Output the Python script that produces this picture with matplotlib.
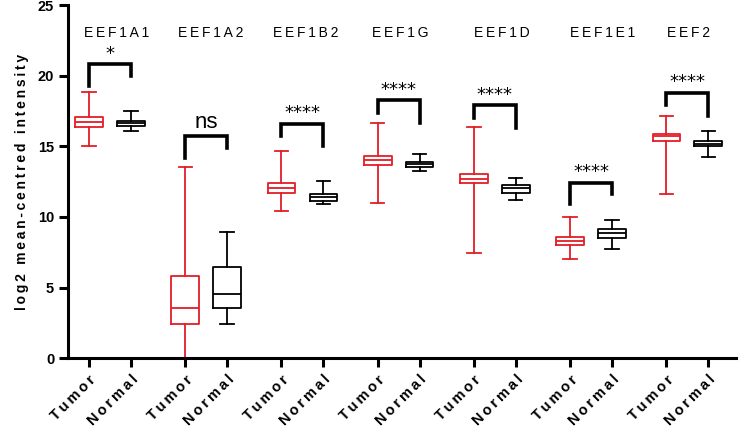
import matplotlib
matplotlib.use("Agg")
from matplotlib import pyplot as plt

# familles avec repli pour l'espace fine
plt.rcParams['font.family'] = ['Liberation Sans', 'DejaVu Sans']

# ================================
# Données
# ================================
genes = ['EEF1A1', 'EEF1A2', 'EEF1B2', 'EEF1G', 'EEF1D', 'EEF1E1', 'EEF2']
signif = ['*', 'ns', '****', '****', '****', '****', '****']

# Tumor : (whislo, q1, med, q3, whishi)
tumor_lo = [15.0, 0.0, 10.43, 11.0, 7.48, 7.01, 11.66]
tumor_q1 = [16.38, 2.38, 11.71, 13.69, 12.37, 7.98, 15.39]
tumor_med = [16.71, 3.56, 12.02, 14.02, 12.72, 8.29, 15.72]
tumor_q3 = [17.09, 5.83, 12.37, 14.33, 13.03, 8.59, 15.91]
tumor_hi = [18.86, 13.56, 14.68, 16.67, 16.34, 10.0, 17.14]

# Normal
normal_lo = [16.08, 2.4, 10.91, 13.22, 11.19, 7.74, 14.26]
normal_q1 = [16.43, 3.56, 11.14, 13.55, 11.73, 8.52, 15.01]
normal_med = [16.62, 4.53, 11.38, 13.74, 12.02, 8.83, 15.2]
normal_q3 = [16.81, 6.47, 11.61, 13.9, 12.25, 9.16, 15.37]
normal_hi = [17.49, 8.9, 12.58, 14.45, 12.77, 9.77, 16.08]

# crochets : (pied gauche, haut, pied droit)
br_left = [19.3, 14.2, 15.74, 17.37, 17.04, 10.9, 17.92]
br_top = [20.8, 15.7, 16.6, 18.27, 17.92, 12.42, 18.79]
br_right = [20.0, 14.9, 15.0, 16.62, 16.31, 11.66, 17.14]

gene_label_y = 23.0
gene_label_dx = [0.15, 0.1, 0.07, 0.03, 0.17, 0.28, 0.03]

RED = '#e41e26'
SP = '\u2009'


def spaced(s):
    return SP.join(s)


def stats(lo, q1, med, q3, hi):
    return [dict(whislo=a, q1=b, med=c, q3=d, whishi=e, fliers=[])
            for a, b, c, d, e in zip(lo, q1, med, q3, hi)]


# ================================
# Figure
# ================================
fig = plt.figure(figsize=(7.4, 4.33), dpi=100)
ax = fig.add_axes([0.092, 0.173, 0.903, 0.815])

step = 2.3
pos_t = [i * step for i in range(len(genes))]
pos_n = [p + 1 for p in pos_t]

for pos, st, col in [(pos_t, stats(tumor_lo, tumor_q1, tumor_med, tumor_q3, tumor_hi), RED),
                     (pos_n, stats(normal_lo, normal_q1, normal_med, normal_q3, normal_hi), 'black')]:
    lp = dict(color=col, linewidth=1.3)
    ax.bxp(st, positions=pos, widths=0.66, showfliers=False,
           boxprops=lp, whiskerprops=lp, capprops=lp,
           medianprops=dict(color=col, linewidth=1.3), capwidths=0.32,
           manage_ticks=False)

# crochets de significativité
for i in range(len(genes)):
    xl, xr = pos_t[i], pos_n[i]
    ax.plot([xl, xl, xr, xr], [br_left[i], br_top[i], br_top[i], br_right[i]],
            color='black', linewidth=2.6, solid_joinstyle='miter', clip_on=False)
    if signif[i] == 'ns':
        ax.text((xl + xr) / 2, br_top[i] + 0.25, signif[i], ha='center', va='bottom',
                fontsize=16)
    else:
        ax.text((xl + xr) / 2, br_top[i] + 0.1, signif[i], ha='center', va='bottom',
                fontsize=13, family='DejaVu Sans')
    ax.text((xl + xr) / 2 + gene_label_dx[i], gene_label_y, spaced(genes[i]),
            ha='center', va='center', fontsize=10)

# axes
ax.set_ylim(0, 25)
ax.set_xlim(-0.5, pos_n[-1] + 0.67)
ax.set_yticks([0, 5, 10, 15, 20, 25])
ax.set_yticklabels(['0', '5', '10', '15', '20', '25'], fontweight='bold', fontsize=10.5)

xt = []
xl_ = []
for a, b in zip(pos_t, pos_n):
    xt += [a, b]
    xl_ += [spaced('Tumor'), spaced('Normal')]
ax.set_xticks(xt)
ax.set_xticklabels(xl_, rotation=45, ha='right', rotation_mode='anchor',
                   fontweight='bold', fontsize=10.5)

ax.set_ylabel(spaced('log2 mean-centred intensity'), fontweight='bold', fontsize=10,
              labelpad=6)

for s in ['top', 'right']:
    ax.spines[s].set_visible(False)
for s in ['left', 'bottom']:
    ax.spines[s].set_linewidth(2.2)
ax.tick_params(axis='both', width=2.2, length=6.5, direction='out')
ax.tick_params(axis='x', pad=4)

fig.savefig('out.png', dpi=100)
